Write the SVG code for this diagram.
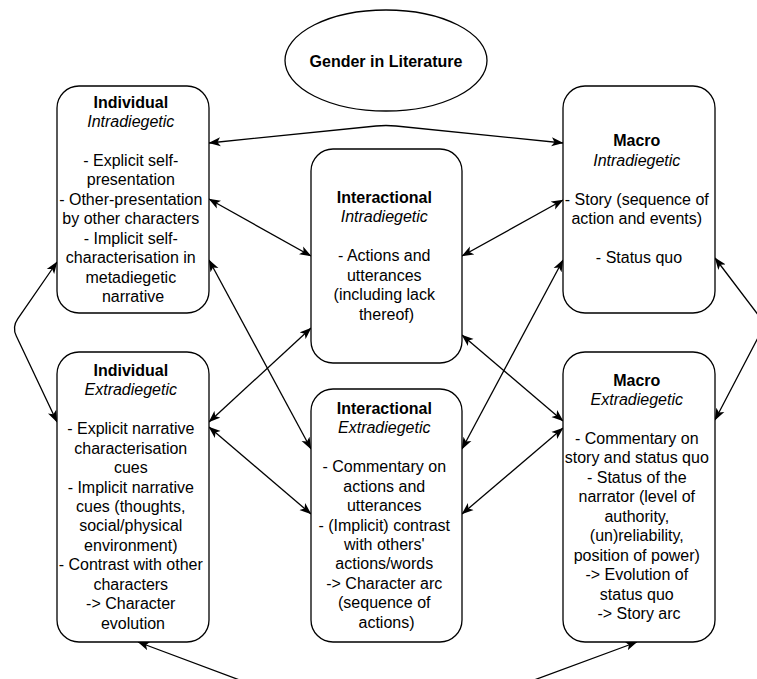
<svg xmlns="http://www.w3.org/2000/svg" width="757" height="679" viewBox="0 0 757 679">
<style>
.box{fill:#fff;stroke:#000;stroke-width:1.3}
.t{font-family:"Liberation Sans",Arial,sans-serif;font-size:16px;fill:#000;text-anchor:middle}
.b{font-weight:bold}
.i{font-style:italic}
.c{fill:none;stroke:#000;stroke-width:1.3;marker-start:url(#ah);marker-end:url(#ah)}
</style>
<defs>
<marker id="ah" viewBox="0 0 12 10" refX="11.5" refY="5" markerWidth="12" markerHeight="10" markerUnits="userSpaceOnUse" orient="auto-start-reverse">
<path d="M0,0.5 L12,5 L0,9.5 L3,5 Z" fill="#000"/>
</marker>
</defs>
<rect width="757" height="679" fill="#fff"/>
<g id="connectors">
<path class="c" d="M209,143 L376,126 Q386,125 396,126 L563,143"/>
<path class="c" d="M209,199 L311,256"/>
<path class="c" d="M462,256 L563,200"/>
<path class="c" d="M209,260 L311,449"/>
<path class="c" d="M563,260 L462,449"/>
<path class="c" d="M209,422 L311,328"/>
<path class="c" d="M462,335 L563,421"/>
<path class="c" d="M209,427 L311,514"/>
<path class="c" d="M462,514 L563,428"/>
<path class="c" d="M57,262 L17.7,318.8 Q12,327 16.3,336 L57,422"/>
<path class="c" d="M715,258 L759,316 Q765,324 761,332 L715,420"/>
<path class="c" d="M138,642 L376,731 Q386,735 396,731 L637,642"/>
</g>
<g id="gender">
<ellipse class="box" cx="386" cy="60.5" rx="101" ry="50.5"/>
<text class="t b" x="386" y="66.5">Gender in Literature</text>
</g>
<g id="individual-intra">
<rect class="box" x="57" y="86" width="152" height="227" rx="22" ry="22"/>
<text class="t" x="133">
<tspan class="b" x="133" y="107.5">Individual</tspan>
<tspan class="i" x="133" y="126.95">Intradiegetic</tspan>
<tspan x="133" y="165.85">- Explicit self-</tspan>
<tspan x="133" y="185.3">presentation</tspan>
<tspan x="133" y="204.75">- Other-presentation</tspan>
<tspan x="133" y="224.2">by other characters</tspan>
<tspan x="133" y="243.65">- Implicit self-</tspan>
<tspan x="133" y="263.1">characterisation in</tspan>
<tspan x="133" y="282.55">metadiegetic</tspan>
<tspan x="133" y="302">narrative</tspan>
</text>
</g>
<g id="interactional-intra">
<rect class="box" x="311" y="149" width="151" height="214" rx="22" ry="22"/>
<text class="t" x="386.5">
<tspan class="b" x="386.5" y="202.9">Interactional</tspan>
<tspan class="i" x="386.5" y="222.35">Intradiegetic</tspan>
<tspan x="386.5" y="261.25">- Actions and</tspan>
<tspan x="386.5" y="280.7">utterances</tspan>
<tspan x="386.5" y="300.15">(including lack</tspan>
<tspan x="386.5" y="319.6">thereof)</tspan>
</text>
</g>
<g id="macro-intra">
<rect class="box" x="563" y="86" width="152" height="227" rx="22" ry="22"/>
<text class="t" x="639">
<tspan class="b" x="639" y="146.4">Macro</tspan>
<tspan class="i" x="639" y="165.85">Intradiegetic</tspan>
<tspan x="639" y="204.75">- Story (sequence of</tspan>
<tspan x="639" y="224.2">action and events)</tspan>
<tspan x="639" y="263.1">- Status quo</tspan>
</text>
</g>
<g id="individual-extra">
<rect class="box" x="57" y="352" width="152" height="290" rx="22" ry="22"/>
<text class="t" x="133">
<tspan class="b" x="133" y="375.85">Individual</tspan>
<tspan class="i" x="133" y="395.3">Extradiegetic</tspan>
<tspan x="133" y="434.2">- Explicit narrative</tspan>
<tspan x="133" y="453.65">characterisation</tspan>
<tspan x="133" y="473.1">cues</tspan>
<tspan x="133" y="492.55">- Implicit narrative</tspan>
<tspan x="133" y="512">cues (thoughts,</tspan>
<tspan x="133" y="531.45">social/physical</tspan>
<tspan x="133" y="550.9">environment)</tspan>
<tspan x="133" y="570.35">- Contrast with other</tspan>
<tspan x="133" y="589.8">characters</tspan>
<tspan x="133" y="609.25">-&gt; Character</tspan>
<tspan x="133" y="628.7">evolution</tspan>
</text>
</g>
<g id="interactional-extra">
<rect class="box" x="311" y="389" width="151" height="253" rx="22" ry="22"/>
<text class="t" x="386.5">
<tspan class="b" x="386.5" y="413.8">Interactional</tspan>
<tspan class="i" x="386.5" y="433.25">Extradiegetic</tspan>
<tspan x="386.5" y="472.15">- Commentary on</tspan>
<tspan x="386.5" y="491.6">actions and</tspan>
<tspan x="386.5" y="511.05">utterances</tspan>
<tspan x="386.5" y="530.5">- (Implicit) contrast</tspan>
<tspan x="386.5" y="549.95">with others'</tspan>
<tspan x="386.5" y="569.4">actions/words</tspan>
<tspan x="386.5" y="588.85">-&gt; Character arc</tspan>
<tspan x="386.5" y="608.3">(sequence of</tspan>
<tspan x="386.5" y="627.75">actions)</tspan>
</text>
</g>
<g id="macro-extra">
<rect class="box" x="563" y="352" width="152" height="290" rx="22" ry="22"/>
<text class="t" x="639">
<tspan class="b" x="639" y="385.6">Macro</tspan>
<tspan class="i" x="639" y="405.05">Extradiegetic</tspan>
<tspan x="639" y="443.95">- Commentary on</tspan>
<tspan x="639" y="463.4">story and status quo</tspan>
<tspan x="639" y="482.85">- Status of the</tspan>
<tspan x="639" y="502.3">narrator (level of</tspan>
<tspan x="639" y="521.75">authority,</tspan>
<tspan x="639" y="541.2">(un)reliability,</tspan>
<tspan x="639" y="560.65">position of power)</tspan>
<tspan x="639" y="580.1">-&gt; Evolution of</tspan>
<tspan x="639" y="599.55">status quo</tspan>
<tspan x="639" y="619">-&gt; Story arc</tspan>
</text>
</g>
</svg>
